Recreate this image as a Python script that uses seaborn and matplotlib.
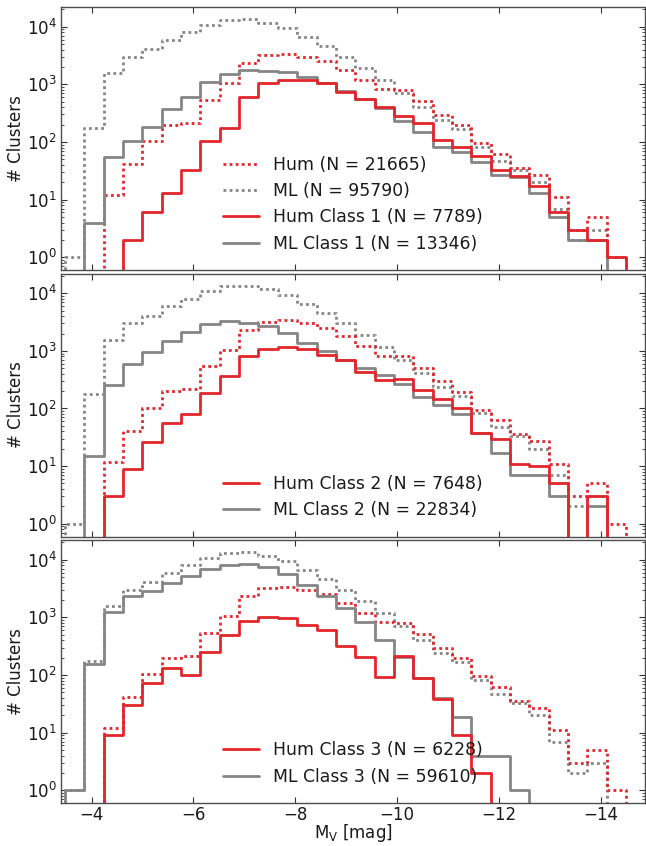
import numpy as np
import pandas as pd
import matplotlib
matplotlib.use("Agg")
import matplotlib.pyplot as plt
import seaborn as sns
from matplotlib.ticker import LogLocator, FixedLocator, NullFormatter

# ---------------- data ----------------
# magnitude bins (faint -> bright)
mv_faint, mv_bright, n_bins = -3.48, -14.50, 29

hum_all = [0, 0, 12, 41, 104, 198, 216, 545, 1050, 2350, 3200, 3400, 3010, 2500, 1800,
           1200, 820, 810, 510, 295, 196, 95, 62, 36, 27, 11, 3, 5, 1]
ml_all = [1, 178, 1570, 3020, 4050, 5950, 8060, 10800, 13200, 13400, 11800, 9400, 6600,
          4600, 3000, 1910, 1190, 705, 405, 238, 167, 82, 47, 33, 20, 7, 2, 3, 0]

hum_c1 = [0, 0, 0, 2, 6, 13, 33, 105, 178, 611, 1040, 1190, 1200, 1050, 750, 553, 402,
          284, 217, 109, 83, 56, 33, 26, 17, 6, 3, 2, 1]
ml_c1 = [0, 4, 54, 105, 184, 368, 611, 1110, 1510, 1770, 1730, 1660, 1320, 1070, 780,
         553, 386, 230, 152, 83, 68, 45, 27, 25, 13, 5, 2, 2, 0]

hum_c2 = [0, 0, 3, 9, 26, 56, 81, 184, 370, 815, 1085, 1165, 1060, 850, 685, 437, 317,
          328, 210, 146, 100, 38, 29, 11, 10, 5, 0, 3, 0]
ml_c2 = [0, 15, 257, 593, 970, 1500, 2150, 2900, 3340, 3090, 2700, 2020, 1390, 1010,
         705, 510, 375, 270, 161, 115, 80, 37, 17, 7, 7, 3, 0, 2, 0]

hum_c3 = [0, 0, 9, 30, 73, 130, 100, 247, 487, 878, 1025, 977, 729, 600, 323, 203, 92,
          211, 90, 39, 9, 2, 0, 0, 0, 0, 0, 0, 0]
ml_c3 = [1, 156, 1240, 2320, 2830, 3950, 5300, 6800, 8070, 8450, 7400, 5570, 3690, 2390,
         1450, 840, 411, 205, 88, 40, 19, 4, 4, 1, 0, 0, 0, 0, 0]

label_hum_all = "Hum (N = 21665)"
label_ml_all = "ML (N = 95790)"
class_labels = [("Hum Class 1 (N = 7789)", "ML Class 1 (N = 13346)"),
                ("Hum Class 2 (N = 7648)", "ML Class 2 (N = 22834)"),
                ("Hum Class 3 (N = 6228)", "ML Class 3 (N = 59610)")]
class_data = [(hum_c1, ml_c1), (hum_c2, ml_c2), (hum_c3, ml_c3)]

x_ticks = [-4, -6, -8, -10, -12, -14]

# ---------------- style ----------------
sns.set_style("ticks")
plt.rcParams["font.family"] = ["DejaVu Sans"]
plt.rcParams["mathtext.default"] = "regular"
FS = 12
LFS = 12.4

RED = "#e3262b"
GRAY = "#858585"
DOT = (0, (1.0, 1.2))

edges = np.linspace(mv_faint, mv_bright, n_bins + 1)
w = edges[0] - edges[1]
edges_pad = np.concatenate([[edges[0] + w], edges, [edges[-1] - w]])
centers = 0.5 * (edges_pad[:-1] + edges_pad[1:])
bins_sorted = [float(b) for b in np.sort(edges_pad)]


def step(ax, vals, color, ls, lw):
    df = pd.DataFrame({"mv": centers,
                       "n": np.concatenate([[0.0], np.asarray(vals, float), [0.0]])})
    sns.histplot(data=df, x="mv", weights="n", bins=bins_sorted, element="step",
                 fill=False, color=color, linestyle=ls, linewidth=lw, ax=ax)
    return ax.lines[-1]


fig, axes = plt.subplots(3, 1, figsize=(6.46, 8.46), dpi=100, sharex=True)
fig.subplots_adjust(left=0.0944, right=0.999, top=0.9917, bottom=0.0508, hspace=0.0135)

for i, ax in enumerate(axes):
    hum_c, ml_c = class_data[i]
    h_ml_all = step(ax, ml_all, GRAY, DOT, 2.0)
    h_hum_all = step(ax, hum_all, RED, DOT, 2.0)
    h_ml_c = step(ax, ml_c, GRAY, "-", 2.0)
    h_hum_c = step(ax, hum_c, RED, "-", 2.0)

    ax.set_yscale("log")
    ax.set_ylim(0.6, 2.2e4)
    ax.set_xlim(-3.4, -14.88)
    ax.xaxis.set_major_locator(FixedLocator(x_ticks))
    ax.yaxis.set_major_locator(LogLocator(base=10, numticks=10))
    ax.yaxis.set_minor_locator(LogLocator(base=10, subs=np.arange(2, 10), numticks=20))
    ax.yaxis.set_minor_formatter(NullFormatter())
    ax.tick_params(which="both", direction="in", top=True, right=True, labelsize=FS,
                   color="0.2", labelcolor="0.1", pad=3)
    ax.tick_params(axis="x", pad=2)
    ax.tick_params(which="major", length=4, width=0.8)
    ax.tick_params(which="minor", length=2, width=0.6)
    for s in ax.spines.values():
        s.set_color("0.3")
        s.set_linewidth(1.0)
    ax.set_ylabel("# Clusters", fontsize=FS, labelpad=1, color="0.1")
    ax.set_xlabel("")

    hum_lab, ml_lab = class_labels[i]
    if i == 0:
        handles = [h_hum_all, h_ml_all, h_hum_c, h_ml_c]
        labels = [label_hum_all, label_ml_all, hum_lab, ml_lab]
    else:
        handles = [h_hum_c, h_ml_c]
        labels = [hum_lab, ml_lab]
    leg = ax.legend(handles, labels, loc="lower left", bbox_to_anchor=(0.277, 0.066),
                    frameon=False, fontsize=LFS, borderpad=0, borderaxespad=0,
                    handlelength=2.1, handletextpad=0.8, labelspacing=0.48)
    for t in leg.get_texts():
        t.set_color("0.1")

axes[-1].set_xlabel(r"M$_\mathrm{V}$ [mag]", fontsize=FS, labelpad=-1, color="0.1")
for ax in axes[:-1]:
    ax.tick_params(labelbottom=False)

fig.savefig("out.png", dpi=100)
